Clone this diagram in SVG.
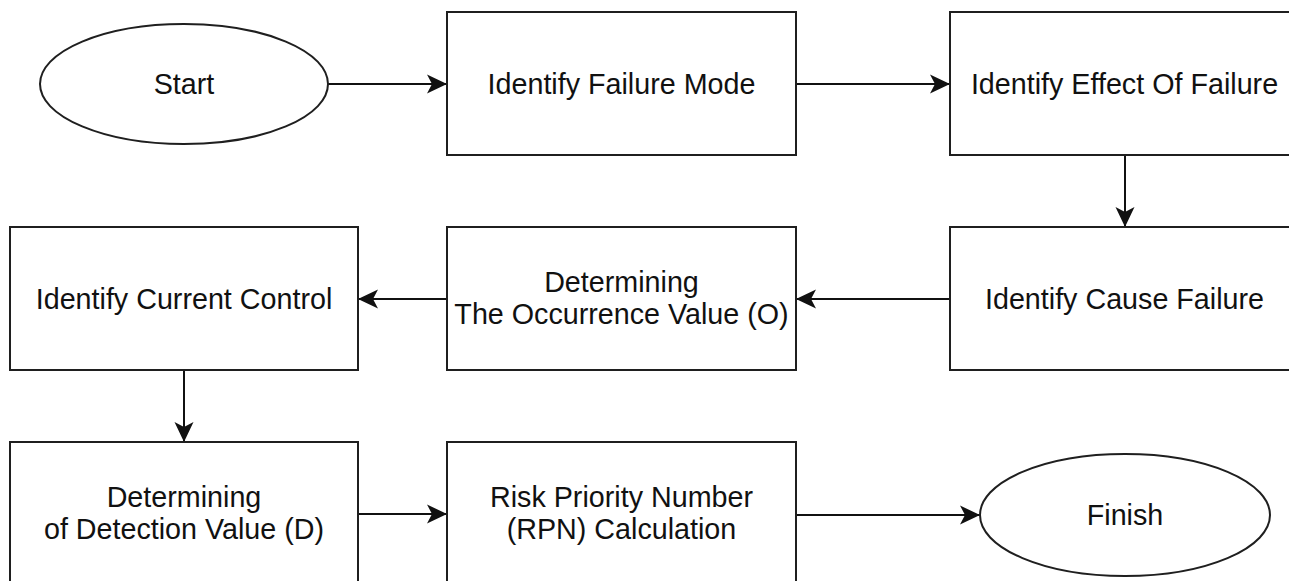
<svg xmlns="http://www.w3.org/2000/svg" width="1289" height="581" viewBox="0 0 1289 581">
  <style>
    .box { fill: #ffffff; stroke: #1f1f1f; stroke-width: 2; }
    .lbl { font-family: "Liberation Sans", Arial, sans-serif; font-size: 28.7px; fill: #111111; text-anchor: middle; }
    .edge { fill: none; stroke: #111111; stroke-width: 2; }
  </style>
  <defs>
    <marker id="arrow" viewBox="0 0 20 20" refX="20" refY="10" markerWidth="20" markerHeight="20" markerUnits="userSpaceOnUse" orient="auto">
      <path d="M0,0.5 L20,10 L0,19.5 L5,10 Z" fill="#111111"/>
    </marker>
  </defs>
  <rect width="1289" height="581" fill="#ffffff"/>

  <g id="connectors">
    <line class="edge" x1="328" y1="84" x2="447" y2="84" marker-end="url(#arrow)"/>
    <line class="edge" x1="796" y1="84" x2="950" y2="84" marker-end="url(#arrow)"/>
    <line class="edge" x1="1125" y1="155" x2="1125" y2="227" marker-end="url(#arrow)"/>
    <line class="edge" x1="950" y1="299" x2="796" y2="299" marker-end="url(#arrow)"/>
    <line class="edge" x1="447" y1="299" x2="358" y2="299" marker-end="url(#arrow)"/>
    <line class="edge" x1="184" y1="370" x2="184" y2="442" marker-end="url(#arrow)"/>
    <line class="edge" x1="358" y1="514" x2="447" y2="514" marker-end="url(#arrow)"/>
    <line class="edge" x1="796" y1="515" x2="980" y2="515" marker-end="url(#arrow)"/>
  </g>

  <g id="start">
    <ellipse class="box" cx="184" cy="84" rx="144" ry="60"/>
    <text class="lbl" x="184" y="94">Start</text>
  </g>
  <g id="identify-failure-mode">
    <rect class="box" x="447" y="12" width="349" height="143"/>
    <text class="lbl" x="621.5" y="94">Identify Failure Mode</text>
  </g>
  <g id="identify-effect">
    <rect class="box" x="950" y="12" width="349" height="143"/>
    <text class="lbl" x="1124.5" y="94">Identify Effect Of Failure</text>
  </g>
  <g id="identify-cause">
    <rect class="box" x="950" y="227" width="349" height="143"/>
    <text class="lbl" x="1124.5" y="309">Identify Cause Failure</text>
  </g>
  <g id="occurrence">
    <rect class="box" x="447" y="227" width="349" height="143"/>
    <text class="lbl" x="621.5" y="292">Determining</text>
    <text class="lbl" x="621.5" y="323.5">The Occurrence Value (O)</text>
  </g>
  <g id="current-control">
    <rect class="box" x="10" y="227" width="348" height="143"/>
    <text class="lbl" x="184" y="309">Identify Current Control</text>
  </g>
  <g id="detection">
    <rect class="box" x="10" y="442" width="348" height="143"/>
    <text class="lbl" x="184" y="507">Determining</text>
    <text class="lbl" x="184" y="538.5">of Detection Value (D)</text>
  </g>
  <g id="rpn">
    <rect class="box" x="447" y="442" width="349" height="143"/>
    <text class="lbl" x="621.5" y="507">Risk Priority Number</text>
    <text class="lbl" x="621.5" y="538.5">(RPN) Calculation</text>
  </g>
  <g id="finish">
    <ellipse class="box" cx="1125" cy="515" rx="145" ry="61"/>
    <text class="lbl" x="1125" y="525">Finish</text>
  </g>
</svg>
